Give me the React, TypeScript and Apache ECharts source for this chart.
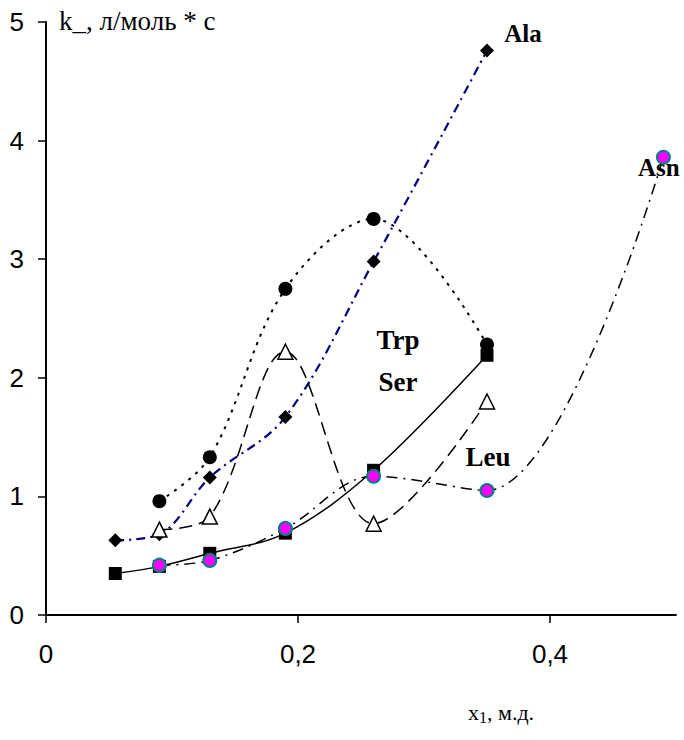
import React, { useEffect, useRef } from 'react';
import * as echarts from 'echarts';

const xSer = [0.055, 0.09, 0.13, 0.19, 0.26, 0.35];
const ySer = [0.35, 0.41, 0.52, 0.69, 1.22, 2.19];
const xAla = [0.055, 0.09, 0.13, 0.19, 0.26, 0.35];
const yAla = [0.63, 0.68, 1.16, 1.67, 2.98, 4.76];
const xTrp = [0.09, 0.13, 0.19, 0.26, 0.35];
const yTrp = [0.96, 1.33, 2.75, 3.34, 2.28];
const xLeu = [0.09, 0.13, 0.19, 0.26, 0.35];
const yLeu = [0.72, 0.83, 2.22, 0.77, 1.80];
const xAsn = [0.09, 0.13, 0.19, 0.26, 0.35, 0.49];
const yAsn = [0.42, 0.46, 0.73, 1.17, 1.05, 3.86];
const xTickValues = [0, 0.2, 0.4];
const yTickValues = [0, 1, 2, 3, 4, 5];

const zip = (xs: number[], ys: number[]) => xs.map((x, i) => [x, ys[i]]);

export default function App() {
  const ref = useRef<HTMLDivElement>(null);
  useEffect(() => {
    document.body.style.margin = '0';
    if (!ref.current) return;
    const chart = echarts.init(ref.current, undefined, { renderer: 'svg' });
    const smooth = 0.35;
    const labelFont = { fontFamily: 'Liberation Sans, Arial, sans-serif', fontSize: 26, color: '#000' };
    const nameFont = { fontFamily: 'Liberation Serif, Times New Roman, serif', fontWeight: 'bold' as const, fontSize: 25, fill: '#000' };
    chart.setOption({
      animation: false,
      backgroundColor: '#fff',
      grid: { left: 46, right: 8, top: 22, bottom: 125, containLabel: false },
      xAxis: {
        type: 'value',
        min: 0,
        max: 0.5,
        axisLine: { lineStyle: { color: '#000', width: 2 } },
        axisTick: { show: true, length: 8, lineStyle: { color: '#000', width: 1.5 }, customValues: xTickValues },
        axisLabel: {
          ...labelFont,
          margin: 26,
          customValues: xTickValues,
          formatter: (v: number) => String(v).replace('.', ','),
        },
        splitLine: { show: false },
      },
      yAxis: {
        type: 'value',
        min: 0,
        max: 5,
        interval: 1,
        axisLine: { show: true, lineStyle: { color: '#000', width: 2 } },
        axisTick: { show: true, length: 8, lineStyle: { color: '#000', width: 1.5 }, customValues: yTickValues },
        axisLabel: { ...labelFont, margin: 22, customValues: yTickValues },
        splitLine: { show: false },
      },
      series: [
        {
          name: 'Ser',
          type: 'line',
          data: zip(xSer, ySer),
          smooth,
          symbol: 'rect',
          symbolSize: 13,
          itemStyle: { color: '#000' },
          lineStyle: { color: '#000', width: 1.5 },
        },
        {
          name: 'Ala',
          type: 'line',
          data: zip(xAla, yAla),
          smooth,
          symbol: 'diamond',
          symbolSize: 14,
          itemStyle: { color: '#000' },
          lineStyle: { color: '#000080', width: 2.2, type: [9, 5, 2, 5] },
        },
        {
          name: 'Trp',
          type: 'line',
          data: zip(xTrp, yTrp),
          smooth,
          symbol: 'circle',
          symbolSize: 14,
          itemStyle: { color: '#000' },
          lineStyle: { color: '#000', width: 2, type: [3, 6] },
        },
        {
          name: 'Leu',
          type: 'line',
          data: zip(xLeu, yLeu),
          smooth,
          symbol: 'triangle',
          symbolSize: 15,
          itemStyle: { color: '#fff', borderColor: '#000', borderWidth: 1.5 },
          lineStyle: { color: '#000', width: 1.5, type: [13, 7] },
        },
        {
          name: 'Asn',
          type: 'line',
          data: zip(xAsn, yAsn),
          smooth,
          symbol: 'circle',
          symbolSize: 13,
          itemStyle: { color: '#ff00ff', borderColor: '#008080', borderWidth: 2 },
          lineStyle: { color: '#000', width: 1.5, type: [11, 6, 2, 6] },
        },
      ],
      graphic: [
        {
          type: 'text',
          left: 59,
          top: 7,
          style: { text: 'k_, л/моль * с', font: '27px "Liberation Serif", "Times New Roman", serif', fill: '#000' },
        },
        { type: 'text', x: 523, y: 33, style: { text: 'Ala', ...nameFont, align: 'center', verticalAlign: 'middle' } },
        { type: 'text', x: 638, y: 167, style: { text: 'Asn', ...nameFont, align: 'left', verticalAlign: 'middle' } },
        { type: 'text', x: 398, y: 340, style: { text: 'Trp', ...nameFont, fontSize: 27, align: 'center', verticalAlign: 'middle' } },
        { type: 'text', x: 398, y: 382, style: { text: 'Ser', ...nameFont, fontSize: 27, align: 'center', verticalAlign: 'middle' } },
        { type: 'text', x: 488, y: 457, style: { text: 'Leu', ...nameFont, fontSize: 27, align: 'center', verticalAlign: 'middle' } },
        {
          type: 'text',
          x: 468,
          y: 712,
          style: {
            text: '{n|x}{s|1}{n|, м.д.}',
            verticalAlign: 'middle',
            rich: {
              n: { fontFamily: 'Liberation Serif, serif', fontSize: 22, lineHeight: 26, verticalAlign: 'middle', fill: '#000' },
              s: { fontFamily: 'Liberation Serif, serif', fontSize: 16, lineHeight: 22, verticalAlign: 'bottom', fill: '#000' },
            },
          },
        },
      ],
    });
    return () => chart.dispose();
  }, []);
  return <div ref={ref} style={{ width: 684, height: 740 }} />;
}
